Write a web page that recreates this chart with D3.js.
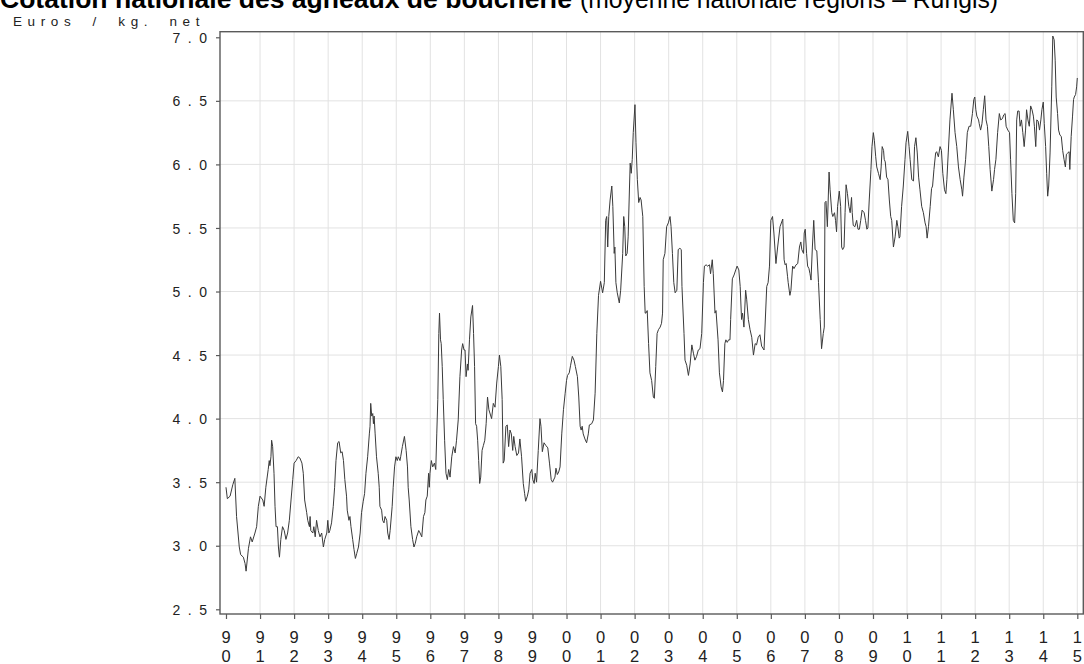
<!DOCTYPE html>
<html lang="fr">
  <head>
    <title>Cotation nationale des agneaux de boucherie</title>
    <meta charset="utf-8" />
    <script type="text/javascript" src="https://d3js.org/d3.v7.min.js"></script>
    <style>
      body { margin: 0; background: #fff; }
      svg { display: block; }
    </style>
  </head>

  <body>
    <div class="chart"></div>

    <script type="text/javascript">
      // weekly quotation (decimal year, euros / kg net)
      let years1990s = [
        1990.00, 1990.04, 1990.12, 1990.20, 1990.26, 1990.31, 1990.39, 1990.43, 1990.51, 1990.56,
        1990.59, 1990.66, 1990.72, 1990.77, 1990.85, 1990.90, 1990.95, 1991.00, 1991.08, 1991.12,
        1991.17, 1991.24, 1991.27, 1991.29, 1991.32, 1991.34, 1991.37, 1991.41, 1991.44, 1991.47,
        1991.51, 1991.54, 1991.57, 1991.61, 1991.66, 1991.71, 1991.76, 1991.81, 1991.86, 1991.91,
        1991.96, 1992.00, 1992.06, 1992.12, 1992.17, 1992.23, 1992.27, 1992.31, 1992.37, 1992.40,
        1992.45, 1992.47, 1992.49, 1992.55, 1992.58, 1992.62, 1992.66, 1992.71, 1992.76, 1992.81,
        1992.86, 1992.90, 1992.96, 1992.99, 1993.02, 1993.05, 1993.10, 1993.15, 1993.19, 1993.23,
        1993.28, 1993.32, 1993.37, 1993.41, 1993.45, 1993.49, 1993.54, 1993.56, 1993.61, 1993.64,
        1993.67, 1993.72, 1993.76, 1993.80, 1993.84, 1993.89, 1993.94, 1993.98, 1994.03, 1994.07,
        1994.11, 1994.16, 1994.21, 1994.23, 1994.25, 1994.28, 1994.31, 1994.33, 1994.35, 1994.38,
        1994.42, 1994.47, 1994.50, 1994.52, 1994.57, 1994.60, 1994.64, 1994.67, 1994.72, 1994.75,
        1994.79, 1994.82, 1994.88, 1994.91, 1994.95, 1994.99, 1995.03, 1995.06, 1995.11, 1995.13,
        1995.18, 1995.24, 1995.29, 1995.33, 1995.35, 1995.38, 1995.43, 1995.48, 1995.52, 1995.56,
        1995.60, 1995.66, 1995.70, 1995.75, 1995.80, 1995.84, 1995.87, 1995.91, 1995.95, 1995.97,
        1995.99, 1996.03, 1996.07, 1996.12, 1996.16, 1996.19, 1996.22, 1996.25, 1996.27, 1996.30,
        1996.32, 1996.35, 1996.38, 1996.42, 1996.46, 1996.50, 1996.54, 1996.58, 1996.63, 1996.68,
        1996.73, 1996.77, 1996.82, 1996.87, 1996.92, 1996.95, 1996.99, 1997.02, 1997.05, 1997.09,
        1997.11, 1997.15, 1997.19, 1997.24, 1997.27, 1997.30, 1997.33, 1997.36, 1997.39, 1997.42,
        1997.45, 1997.48, 1997.52, 1997.56, 1997.60, 1997.64, 1997.68, 1997.72
      ];
      let prices1990s = [
        3.46, 3.37, 3.39, 3.48, 3.53, 3.23, 2.99, 2.93, 2.91, 2.86,
        2.80, 2.98, 3.07, 3.03, 3.10, 3.15, 3.31, 3.39, 3.36, 3.31,
        3.46, 3.60, 3.67, 3.63, 3.70, 3.83, 3.78, 3.57, 3.31, 3.15,
        3.15, 2.99, 2.91, 3.05, 3.15, 3.12, 3.05, 3.10, 3.20, 3.36,
        3.52, 3.65, 3.67, 3.70, 3.69, 3.65, 3.57, 3.36, 3.26, 3.20,
        3.15, 3.23, 3.12, 3.10, 3.15, 3.07, 3.20, 3.12, 3.07, 3.10,
        2.99, 3.05, 3.10, 3.20, 3.10, 3.12, 3.18, 3.31, 3.46, 3.67,
        3.81, 3.82, 3.73, 3.74, 3.67, 3.52, 3.39, 3.28, 3.20, 3.23,
        3.15, 3.05, 2.97, 2.90, 2.94, 2.99, 3.10, 3.26, 3.35, 3.41,
        3.57, 3.70, 3.88, 3.94, 4.12, 4.02, 4.04, 3.96, 4.02, 3.88,
        3.70, 3.57, 3.46, 3.31, 3.28, 3.20, 3.18, 3.23, 3.20, 3.10,
        3.05, 3.12, 3.31, 3.46, 3.62, 3.70, 3.67, 3.70, 3.67, 3.70,
        3.78, 3.86, 3.75, 3.62, 3.46, 3.36, 3.15, 3.05, 2.99, 3.02,
        3.07, 3.12, 3.10, 3.07, 3.23, 3.26, 3.36, 3.39, 3.57, 3.46,
        3.57, 3.67, 3.62, 3.65, 3.60, 3.88, 4.15, 4.67, 4.83, 4.62,
        4.59, 4.41, 4.15, 3.83, 3.57, 3.52, 3.60, 3.54, 3.70, 3.78,
        3.73, 3.83, 3.99, 4.33, 4.54, 4.59, 4.54, 4.54, 4.33, 4.43,
        4.38, 4.62, 4.80, 4.89, 4.67, 4.41, 3.96, 3.94, 3.83, 3.67,
        3.49, 3.54, 3.75, 3.79, 3.83, 3.96, 4.17, 4.07
      ];

      let years2000s = [
        1997.80, 1997.85, 1997.90, 1997.95, 1998.00, 1998.03, 1998.07, 1998.11, 1998.14, 1998.17,
        1998.22, 1998.26, 1998.30, 1998.34, 1998.38, 1998.42, 1998.45, 1998.49, 1998.54, 1998.59,
        1998.63, 1998.68, 1998.73, 1998.77, 1998.80, 1998.85, 1998.89, 1998.93, 1998.98, 1999.01,
        1999.05, 1999.08, 1999.12, 1999.17, 1999.22, 1999.25, 1999.29, 1999.34, 1999.39, 1999.45,
        1999.50, 1999.55, 1999.59, 1999.66, 1999.69, 1999.73, 1999.77, 1999.81, 1999.86, 1999.91,
        1999.96, 2000.00, 2000.03, 2000.08, 2000.12, 2000.17, 2000.22, 2000.26, 2000.32, 2000.36,
        2000.40, 2000.43, 2000.46, 2000.49, 2000.54, 2000.59, 2000.64, 2000.67, 2000.74, 2000.79,
        2000.84, 2000.89, 2000.94, 2001.00, 2001.06, 2001.11, 2001.15, 2001.18, 2001.21, 2001.24,
        2001.28, 2001.33, 2001.36, 2001.40, 2001.42, 2001.45, 2001.49, 2001.55, 2001.59, 2001.65,
        2001.68, 2001.71, 2001.74, 2001.78, 2001.81, 2001.85, 2001.87, 2001.90, 2001.93, 2001.96,
        2002.01, 2002.04, 2002.08, 2002.12, 2002.16, 2002.19, 2002.24, 2002.28, 2002.31, 2002.33,
        2002.37, 2002.41, 2002.45, 2002.50, 2002.55, 2002.58, 2002.62, 2002.66, 2002.70, 2002.75,
        2002.79, 2002.82, 2002.84, 2002.89, 2002.94, 2002.99, 2003.04, 2003.07, 2003.11, 2003.15,
        2003.19, 2003.24, 2003.28, 2003.33, 2003.37, 2003.39, 2003.45, 2003.48, 2003.53, 2003.58,
        2003.63, 2003.68, 2003.73, 2003.77, 2003.82, 2003.87, 2003.92, 2003.97, 2004.02, 2004.05,
        2004.10, 2004.14, 2004.20, 2004.23, 2004.28, 2004.31, 2004.36, 2004.39, 2004.45, 2004.49,
        2004.54, 2004.58, 2004.61, 2004.65, 2004.68, 2004.72, 2004.76, 2004.80, 2004.82, 2004.87,
        2004.92, 2004.97, 2005.01, 2005.06, 2005.10, 2005.14, 2005.17, 2005.21, 2005.26, 2005.29,
        2005.34, 2005.39, 2005.44, 2005.49, 2005.54, 2005.58, 2005.63, 2005.68, 2005.73, 2005.80,
        2005.88, 2005.92, 2005.96, 2006.00, 2006.05, 2006.09, 2006.15, 2006.20, 2006.27
      ];
      let prices2000s = [
        4.00, 4.12, 4.09, 4.28, 4.41, 4.50, 4.41, 4.15, 3.65, 3.67,
        3.94, 3.95, 3.78, 3.91, 3.88, 3.75, 3.86, 3.78, 3.71, 3.73,
        3.84, 3.70, 3.49, 3.41, 3.35, 3.39, 3.44, 3.57, 3.60, 3.52,
        3.49, 3.57, 3.50, 3.75, 4.00, 3.94, 3.74, 3.81, 3.79, 3.77,
        3.65, 3.52, 3.50, 3.54, 3.61, 3.56, 3.58, 3.62, 3.88, 4.07,
        4.20, 4.30, 4.34, 4.36, 4.42, 4.49, 4.46, 4.41, 4.33, 4.17,
        3.94, 3.91, 3.94, 3.88, 3.84, 3.81, 3.88, 3.95, 3.96, 3.99,
        4.20, 4.67, 4.97, 5.08, 4.99, 5.07, 5.56, 5.59, 5.35, 5.59,
        5.72, 5.83, 5.67, 5.30, 5.35, 5.07, 4.99, 4.91, 5.01, 5.30,
        5.59, 5.51, 5.28, 5.30, 5.43, 5.83, 6.01, 5.93, 6.04, 6.25,
        6.47, 6.17, 5.88, 5.70, 5.74, 5.72, 5.59, 5.04, 4.83, 4.83,
        4.85, 4.59, 4.36, 4.30, 4.17, 4.16, 4.41, 4.67, 4.70, 4.72,
        4.75, 4.83, 5.25, 5.30, 5.51, 5.54, 5.59, 5.51, 5.30, 5.07,
        4.99, 5.01, 5.33, 5.34, 5.33, 5.04, 4.67, 4.46, 4.42, 4.34,
        4.43, 4.58, 4.51, 4.46, 4.49, 4.54, 4.55, 4.67, 5.07, 5.20,
        5.21, 5.20, 5.21, 5.14, 5.25, 5.14, 4.83, 4.85, 4.62, 4.36,
        4.25, 4.21, 4.30, 4.59, 4.62, 4.60, 4.62, 4.62, 4.78, 5.10,
        5.13, 5.17, 5.20, 5.17, 5.04, 4.78, 4.83, 4.72, 5.01, 4.94,
        4.78, 4.70, 4.64, 4.50, 4.59, 4.58, 4.64, 4.66, 4.57, 4.54,
        5.04, 5.07, 5.20, 5.56, 5.59, 5.46, 5.22, 5.35, 5.51
      ];

      let years2010s = [
        2006.35, 2006.39, 2006.42, 2006.45, 2006.49, 2006.51, 2006.56, 2006.59, 2006.64, 2006.68,
        2006.74, 2006.79, 2006.84, 2006.88, 2006.91, 2006.96, 2006.98, 2007.01, 2007.05, 2007.08,
        2007.12, 2007.15, 2007.18, 2007.22, 2007.26, 2007.30, 2007.35, 2007.40, 2007.45, 2007.49,
        2007.54, 2007.57, 2007.59, 2007.62, 2007.66, 2007.71, 2007.74, 2007.79, 2007.82, 2007.87,
        2007.90, 2007.93, 2007.96, 2008.01, 2008.05, 2008.08, 2008.11, 2008.15, 2008.18, 2008.21,
        2008.25, 2008.29, 2008.33, 2008.37, 2008.39, 2008.42, 2008.47, 2008.52, 2008.56, 2008.60,
        2008.64, 2008.68, 2008.74, 2008.78, 2008.82, 2008.85, 2008.89, 2008.94, 2008.97, 2009.01,
        2009.04, 2009.08, 2009.11, 2009.16, 2009.21, 2009.24, 2009.27, 2009.31, 2009.33, 2009.36,
        2009.40, 2009.44, 2009.48, 2009.52, 2009.55, 2009.60, 2009.65, 2009.70, 2009.73, 2009.77,
        2009.79, 2009.84, 2009.89, 2009.94, 2009.97, 2010.02, 2010.06, 2010.09, 2010.14, 2010.19,
        2010.22, 2010.26, 2010.30, 2010.34, 2010.38, 2010.43, 2010.48, 2010.53, 2010.56, 2010.59,
        2010.63, 2010.68, 2010.72, 2010.75, 2010.79, 2010.84, 2010.87, 2010.92, 2010.97, 2011.01,
        2011.05, 2011.10, 2011.14, 2011.17, 2011.21, 2011.26, 2011.32, 2011.36, 2011.41, 2011.46,
        2011.51, 2011.56, 2011.61, 2011.63, 2011.67, 2011.72, 2011.77, 2011.82, 2011.87, 2011.92,
        2011.96, 2011.99, 2012.02, 2012.05, 2012.10, 2012.12, 2012.16, 2012.20, 2012.24, 2012.28,
        2012.32, 2012.36, 2012.40, 2012.44, 2012.49, 2012.54, 2012.57, 2012.61, 2012.66, 2012.71,
        2012.75, 2012.80, 2012.84, 2012.88, 2012.91, 2012.96, 2013.01, 2013.04, 2013.08, 2013.12,
        2013.16, 2013.19, 2013.22, 2013.25, 2013.29, 2013.32, 2013.36, 2013.40, 2013.44, 2013.48,
        2013.51, 2013.55, 2013.59, 2013.63, 2013.67, 2013.71, 2013.74, 2013.78, 2013.81, 2013.85,
        2013.89, 2013.93, 2013.96, 2014.00, 2014.03, 2014.07, 2014.10, 2014.13, 2014.16, 2014.20,
        2014.25, 2014.28, 2014.32, 2014.35, 2014.38, 2014.42, 2014.45, 2014.49, 2014.53, 2014.57,
        2014.61, 2014.65, 2014.68, 2014.72, 2014.76, 2014.78, 2014.82, 2014.86, 2014.89, 2014.91,
        2014.95, 2014.98, 2015.00
      ];
      let prices2010s = [
        5.57, 5.25, 5.21, 5.22, 5.12, 5.07, 4.97, 5.01, 5.20, 5.18,
        5.21, 5.22, 5.35, 5.39, 5.33, 5.30, 5.46, 5.49, 5.30, 5.20,
        5.18, 5.14, 5.09, 5.35, 5.56, 5.33, 5.32, 5.07, 4.78, 4.55,
        4.67, 4.72, 5.70, 5.71, 5.51, 5.94, 5.80, 5.62, 5.59, 5.62,
        5.56, 5.47, 5.67, 5.79, 5.67, 5.35, 5.33, 5.35, 5.62, 5.84,
        5.77, 5.67, 5.62, 5.74, 5.62, 5.52, 5.51, 5.56, 5.49, 5.49,
        5.56, 5.64, 5.62, 5.56, 5.49, 5.50, 5.72, 5.96, 6.14, 6.25,
        6.19, 6.06, 5.98, 5.93, 5.88, 5.98, 6.14, 6.11, 6.04, 6.02,
        5.90, 5.88, 5.72, 5.59, 5.56, 5.35, 5.43, 5.56, 5.51, 5.42,
        5.43, 5.67, 5.83, 6.04, 6.17, 6.26, 6.14, 6.04, 5.88, 5.87,
        6.14, 6.21, 6.09, 5.90, 5.80, 5.67, 5.62, 5.54, 5.51, 5.42,
        5.51, 5.67, 5.81, 5.83, 5.96, 6.09, 6.10, 6.06, 6.14, 6.11,
        5.93, 5.80, 5.77, 5.88, 6.09, 6.35, 6.56, 6.43, 6.25, 6.14,
        5.98, 5.88, 5.80, 5.75, 5.90, 6.04, 6.25, 6.30, 6.30, 6.40,
        6.51, 6.53, 6.43, 6.38, 6.35, 6.32, 6.27, 6.32, 6.43, 6.54,
        6.35, 6.30, 6.14, 5.96, 5.79, 5.88, 5.96, 6.04, 6.25, 6.40,
        6.35, 6.36, 6.39, 6.40, 6.30, 6.27, 6.25, 6.04, 5.77, 5.56,
        5.54, 5.77, 6.35, 6.42, 6.42, 6.30, 6.35, 6.25, 6.14, 6.27,
        6.43, 6.35, 6.30, 6.46, 6.43, 6.38, 6.30, 6.14, 6.35, 6.34,
        6.27, 6.35, 6.43, 6.49, 6.32, 6.14, 5.93, 5.75, 5.83, 6.09,
        6.61, 7.01, 6.98, 6.82, 6.53, 6.40, 6.27, 6.23, 6.22, 6.11,
        6.04, 5.98, 6.08, 6.09, 6.10, 5.96, 6.22, 6.38, 6.51, 6.53,
        6.55, 6.61, 6.68
      ];

      let yearTicks = d3.range(1990, 2016);
      let yearLabels = yearTicks.map((d) => String(d).slice(2));
      let priceTicks = [2.5, 3.0, 3.5, 4.0, 4.5, 5.0, 5.5, 6.0, 6.5, 7.0];
      let priceGrid = [3.0, 3.5, 4.0, 4.5, 5.0, 5.5, 6.0, 6.5];

      let w = 1084;
      let h = 664;

      let svg = d3
        .select(".chart")
        .append("svg")
        .attr("width", w)
        .attr("height", h);

      // plot frame
      let plotLeft = 220,
        plotRight = 1083.3,
        plotTop = 31.7,
        plotBottom = 614;

      let x = d3.scaleLinear().domain([1989.824, 2015.176]).range([plotLeft, plotRight]);
      let y = d3.scaleLinear().domain([2.463, 7.044]).range([plotBottom, plotTop]);

      let data = [];
      [
        [years1990s, prices1990s],
        [years2000s, prices2000s],
        [years2010s, prices2010s],
      ].forEach(function (pair) {
        pair[0].forEach(function (t, i) {
          data.push({ t: t, v: pair[1][i] });
        });
      });

      // grid
      svg
        .append("g")
        .selectAll("line")
        .data(priceGrid)
        .join("line")
        .attr("x1", plotLeft)
        .attr("x2", plotRight)
        .attr("y1", (d) => y(d))
        .attr("y2", (d) => y(d))
        .attr("stroke", "#e2e2e2")
        .attr("stroke-width", 1);

      svg
        .append("g")
        .selectAll("line")
        .data(yearTicks.slice(1))
        .join("line")
        .attr("x1", (d) => x(d))
        .attr("x2", (d) => x(d))
        .attr("y1", plotTop)
        .attr("y2", plotBottom)
        .attr("stroke", "#e2e2e2")
        .attr("stroke-width", 1);

      // the series
      let line = d3
        .line()
        .x((d) => x(d.t))
        .y((d) => y(d.v));

      svg
        .append("path")
        .datum(data)
        .attr("d", line)
        .attr("fill", "none")
        .attr("stroke", "#3a3a3a")
        .attr("stroke-width", 1)
        .attr("stroke-linejoin", "round");

      // frame
      svg
        .append("rect")
        .attr("x", plotLeft)
        .attr("y", plotTop)
        .attr("width", plotRight - plotLeft)
        .attr("height", plotBottom - plotTop)
        .attr("fill", "none")
        .attr("stroke", "#5a5a5a")
        .attr("stroke-width", 1.4);

      // y axis
      let yAxis = svg
        .append("g")
        .attr("transform", `translate(${plotLeft},0)`)
        .call(
          d3
            .axisLeft(y)
            .tickValues(priceTicks)
            .tickSize(4)
            .tickFormat((d) => d.toFixed(1))
        );
      yAxis.select(".domain").remove();
      yAxis.selectAll(".tick line").attr("stroke", "#5a5a5a").attr("stroke-width", 1.2);
      yAxis
        .selectAll(".tick text")
        .attr("x", -5.5)
        .attr("dy", "0.36em")
        .style("font-family", "'Liberation Sans', Arial, sans-serif")
        .style("font-size", "14px")
        .style("letter-spacing", "7.5px")
        .attr("fill", "#222");

      // x axis, two-digit years written one digit above the other
      let xAxis = svg
        .append("g")
        .attr("transform", `translate(0,${plotBottom})`)
        .call(d3.axisBottom(x).tickValues(yearTicks).tickSize(5).tickFormat(""));
      xAxis.select(".domain").remove();
      xAxis.selectAll(".tick line").attr("stroke", "#5a5a5a").attr("stroke-width", 1.2);

      let xLabels = svg
        .append("g")
        .selectAll("text")
        .data(yearTicks)
        .join("text")
        .attr("text-anchor", "middle")
        .style("font-family", "'Liberation Sans', Arial, sans-serif")
        .style("font-size", "16.5px")
        .attr("fill", "#222");
      xLabels
        .append("tspan")
        .attr("x", (d) => x(d))
        .attr("y", 643)
        .text((d, i) => yearLabels[i][0]);
      xLabels
        .append("tspan")
        .attr("x", (d) => x(d))
        .attr("y", 661.5)
        .text((d, i) => yearLabels[i][1]);

      // unit label
      svg
        .append("text")
        .attr("x", 13)
        .attr("y", 26)
        .style("font-family", "'Liberation Sans', Arial, sans-serif")
        .style("font-size", "13.5px")
        .style("letter-spacing", "5.6px")
        .style("word-spacing", "7px")
        .attr("fill", "#222")
        .text("Euros / kg. net");

      // title, cut at the top edge as in the original
      svg
        .append("text")
        .attr("x", 0)
        .attr("y", 8)
        .attr("textLength", 572)
        .attr("lengthAdjust", "spacingAndGlyphs")
        .style("font-family", "'Liberation Sans', Arial, sans-serif")
        .style("font-size", "25px")
        .style("font-weight", "bold")
        .attr("fill", "#000")
        .text("Cotation nationale des agneaux de boucherie");
      svg
        .append("text")
        .attr("x", 580)
        .attr("y", 8)
        .attr("textLength", 418)
        .attr("lengthAdjust", "spacingAndGlyphs")
        .style("font-family", "'Liberation Sans', Arial, sans-serif")
        .style("font-size", "25px")
        .attr("fill", "#000")
        .text("(moyenne nationale régions – Rungis)");
    </script>
  </body>
</html>
